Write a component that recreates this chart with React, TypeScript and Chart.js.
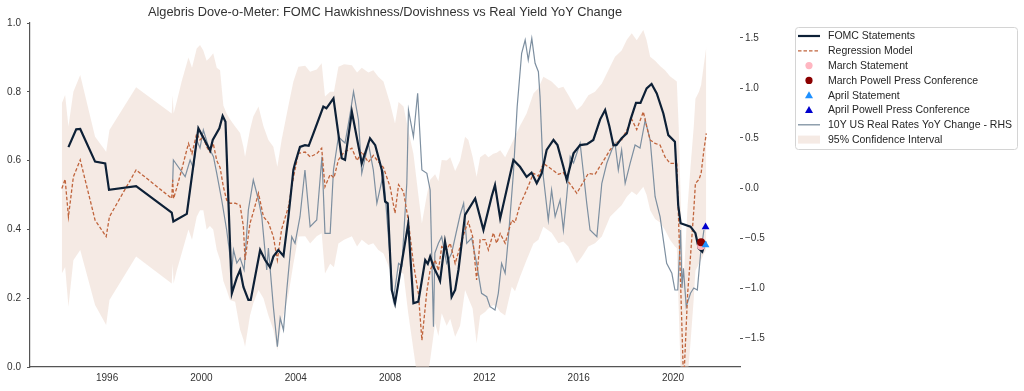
import React, { useEffect, useRef } from 'react';
import { Chart, registerables } from 'chart.js';

Chart.register(...registerables);

const FONT = "'Liberation Sans', Arial, sans-serif";
const TITLE = 'Algebris Dove-o-Meter: FOMC Hawkishness/Dovishness vs Real Yield YoY Change';

const xTickYears = [1996, 2000, 2004, 2008, 2012, 2016, 2020];
const leftTicks = [0, 0.2, 0.4, 0.6, 0.8, 1.0];
const rightTicks = [-1.5, -1.0, -0.5, 0, 0.5, 1.0, 1.5];

const legendLabels = [
  'FOMC Statements',
  'Regression Model',
  'March Statement',
  'March Powell Press Conference',
  'April Statement',
  'April Powell Press Conference',
  '10Y US Real Rates YoY Change - RHS',
  '95% Confidence Interval',
];

// FOMC statements score (left axis)
const fomcDates = [
  1994.36, 1994.69, 1994.86, 1995.49, 1995.92, 1996.08, 1997.23, 1998.74, 1998.81, 1999.38,
  1999.87, 2000.37, 2000.48, 2000.76, 2000.90, 2001.02, 2001.29, 2001.50, 2001.64, 2001.78,
  2001.99, 2002.09, 2002.49, 2002.70, 2002.91, 2003.05, 2003.26, 2003.48, 2003.69, 2003.90,
  2003.97, 2004.18, 2004.39, 2004.55, 2004.75, 2005.17, 2005.30, 2005.60, 2005.95, 2006.09,
  2006.38, 2006.80, 2007.15, 2007.37, 2007.65, 2007.79, 2007.90, 2008.07, 2008.21, 2008.49,
  2008.77, 2008.99, 2009.20, 2009.49, 2009.60, 2009.70, 2009.85, 2010.05, 2010.12, 2010.33,
  2010.47, 2010.61, 2010.76, 2010.90, 2011.18, 2011.61, 2011.96, 2012.31, 2012.45, 2012.67,
  2013.23, 2013.51, 2013.79, 2014.00, 2014.22, 2014.43, 2014.64, 2014.93, 2015.10, 2015.35,
  2015.49, 2015.78, 2016.06, 2016.35, 2016.62, 2016.91, 2017.12, 2017.30, 2017.47, 2017.60,
  2017.82, 2018.04, 2018.20, 2018.43, 2018.62, 2018.88, 2019.09, 2019.31, 2019.59, 2019.80,
  2020.08, 2020.22, 2020.32, 2020.74, 2020.95, 2021.09, 2021.24, 2021.38,
];
const fomcValues = [
  0.639, 0.691, 0.692, 0.597, 0.592, 0.515, 0.526, 0.449, 0.423, 0.445,
  0.694, 0.629, 0.660, 0.694, 0.730, 0.713, 0.214, 0.260, 0.282, 0.233,
  0.195, 0.195, 0.340, 0.311, 0.290, 0.321, 0.340, 0.323, 0.437, 0.573,
  0.592, 0.640, 0.645, 0.643, 0.679, 0.757, 0.752, 0.781, 0.607, 0.602,
  0.742, 0.592, 0.665, 0.645, 0.573, 0.481, 0.476, 0.224, 0.185, 0.301,
  0.417, 0.185, 0.190, 0.311, 0.300, 0.321, 0.290, 0.262, 0.250, 0.364,
  0.311, 0.204, 0.224, 0.282, 0.442, 0.490, 0.398, 0.496, 0.529, 0.432,
  0.602, 0.582, 0.553, 0.565, 0.534, 0.563, 0.631, 0.660, 0.645, 0.582,
  0.544, 0.621, 0.645, 0.648, 0.660, 0.720, 0.747, 0.700, 0.645, 0.645,
  0.665, 0.679, 0.720, 0.768, 0.768, 0.810, 0.823, 0.795, 0.737, 0.674,
  0.655, 0.470, 0.418, 0.408, 0.389, 0.345, 0.335, 0.365,
];

// Regression model and its 95% confidence interval (left axis)
const regDates = [
  1994.08, 1994.22, 1994.36, 1994.57, 1994.86, 1995.49, 1995.96, 1996.10, 1997.23, 1998.74,
  1998.78, 1998.82, 1998.95, 1999.16, 1999.45, 1999.60, 1999.80, 1999.94, 2000.08, 2000.22,
  2000.36, 2000.50, 2000.65, 2000.79, 2000.93, 2001.07, 2001.21, 2001.43, 2001.64, 2001.78,
  2001.85, 2002.06, 2002.20, 2002.42, 2002.63, 2002.84, 2003.05, 2003.22, 2003.40, 2003.69,
  2003.90, 2004.11, 2004.40, 2004.61, 2004.89, 2005.10, 2005.24, 2005.46, 2005.62, 2005.81,
  2006.05, 2006.38, 2006.60, 2006.80, 2007.08, 2007.29, 2007.50, 2007.72, 2008.00, 2008.21,
  2008.36, 2008.57, 2008.77, 2008.99, 2009.20, 2009.35, 2009.56, 2009.70, 2009.91, 2010.05,
  2010.19, 2010.40, 2010.55, 2010.76, 2010.97, 2011.18, 2011.32, 2011.50, 2011.67, 2011.82,
  2012.03, 2012.17, 2012.38, 2012.52, 2012.67, 2012.88, 2013.16, 2013.30, 2013.50, 2013.79,
  2014.08, 2014.29, 2014.50, 2014.85, 2015.14, 2015.35, 2015.56, 2015.92, 2016.13, 2016.41,
  2016.69, 2016.98, 2017.33, 2017.54, 2017.82, 2018.04, 2018.25, 2018.46, 2018.74, 2018.88,
  2019.03, 2019.24, 2019.45, 2019.66, 2019.87, 2020.08, 2020.16, 2020.24, 2020.34, 2020.45,
  2020.62, 2020.74, 2020.88, 2020.95, 2021.10, 2021.19, 2021.31, 2021.41,
];
const regValues = [
  0.519, 0.546, 0.437, 0.553, 0.602, 0.427, 0.379, 0.437, 0.573, 0.490,
  0.544, 0.490, 0.520, 0.573, 0.650, 0.620, 0.679, 0.660, 0.670, 0.640,
  0.625, 0.650, 0.600, 0.580, 0.524, 0.485, 0.476, 0.476, 0.470, 0.408,
  0.311, 0.418, 0.450, 0.505, 0.437, 0.420, 0.379, 0.311, 0.400, 0.466,
  0.550, 0.621, 0.625, 0.611, 0.620, 0.636, 0.524, 0.560, 0.550, 0.602,
  0.625, 0.636, 0.600, 0.626, 0.595, 0.615, 0.597, 0.580, 0.524, 0.447,
  0.530, 0.510, 0.427, 0.301, 0.214, 0.078, 0.220, 0.282, 0.311, 0.280,
  0.350, 0.340, 0.360, 0.301, 0.350, 0.398, 0.422, 0.380, 0.253, 0.370,
  0.370, 0.340, 0.390, 0.360, 0.388, 0.360, 0.427, 0.420, 0.470, 0.514,
  0.563, 0.555, 0.592, 0.575, 0.560, 0.565, 0.539, 0.505, 0.530, 0.563,
  0.560, 0.592, 0.631, 0.650, 0.660, 0.689, 0.720, 0.690, 0.742, 0.700,
  0.660, 0.650, 0.645, 0.611, 0.592, 0.592, 0.590, 0.418, 0.200, -0.050,
  0.214, 0.321, 0.456, 0.534, 0.545, 0.563, 0.631, 0.679,
];
const ciUpper = [
  0.767, 0.791, 0.699, 0.800, 0.849, 0.669, 0.626, 0.689, 0.813, 0.737,
  0.790, 0.737, 0.770, 0.830, 0.900, 0.870, 0.926, 0.936, 0.920, 0.890,
  0.900, 0.912, 0.870, 0.863, 0.760, 0.737, 0.720, 0.699, 0.680, 0.640,
  0.611, 0.690, 0.728, 0.757, 0.700, 0.660, 0.640, 0.582, 0.660, 0.760,
  0.830, 0.873, 0.876, 0.858, 0.865, 0.883, 0.786, 0.800, 0.800, 0.873,
  0.880, 0.877, 0.856, 0.870, 0.856, 0.863, 0.844, 0.830, 0.767, 0.708,
  0.770, 0.757, 0.689, 0.620, 0.500, 0.418, 0.500, 0.544, 0.560, 0.540,
  0.602, 0.600, 0.610, 0.570, 0.600, 0.669, 0.660, 0.611, 0.553, 0.610,
  0.620, 0.610, 0.620, 0.623, 0.630, 0.610, 0.650, 0.670, 0.700, 0.737,
  0.795, 0.810, 0.844, 0.830, 0.810, 0.815, 0.791, 0.747, 0.760, 0.790,
  0.800, 0.824, 0.873, 0.902, 0.920, 0.951, 0.970, 0.950, 0.980, 0.950,
  0.902, 0.890, 0.875, 0.863, 0.845, 0.834, 0.830, 0.700, 0.450, 0.250,
  0.470, 0.580, 0.700, 0.780, 0.800, 0.820, 0.880, 0.930,
];
const ciLower = [
  0.272, 0.291, 0.175, 0.310, 0.340, 0.180, 0.122, 0.195, 0.321, 0.243,
  0.300, 0.243, 0.280, 0.330, 0.400, 0.370, 0.437, 0.456, 0.456, 0.400,
  0.410, 0.400, 0.340, 0.311, 0.250, 0.224, 0.195, 0.190, 0.108, 0.080,
  0.059, 0.150, 0.185, 0.224, 0.200, 0.150, 0.108, 0.049, 0.130, 0.210,
  0.300, 0.379, 0.380, 0.359, 0.380, 0.389, 0.272, 0.300, 0.290, 0.359,
  0.370, 0.380, 0.350, 0.370, 0.355, 0.360, 0.340, 0.330, 0.282, 0.204,
  0.280, 0.270, 0.156, 0.050, -0.050, -0.100, -0.040, 0.020, 0.127, 0.090,
  0.156, 0.120, 0.140, 0.088, 0.120, 0.224, 0.200, 0.170, 0.069, 0.150,
  0.160, 0.170, 0.180, 0.175, 0.160, 0.150, 0.233, 0.220, 0.260, 0.311,
  0.359, 0.370, 0.408, 0.390, 0.360, 0.365, 0.350, 0.301, 0.320, 0.350,
  0.360, 0.379, 0.437, 0.451, 0.470, 0.495, 0.510, 0.500, 0.524, 0.500,
  0.456, 0.430, 0.420, 0.398, 0.370, 0.350, 0.345, 0.170, -0.050, -0.300,
  -0.030, 0.070, 0.200, 0.280, 0.300, 0.310, 0.330, 0.340,
];

// 10Y US real rates YoY change (right axis)
const realDates = [
  1998.78, 1998.81, 1999.31, 1999.52, 1999.66, 1999.80, 1999.94, 2000.08, 2000.30, 2000.51,
  2000.65, 2000.86, 2001.07, 2001.29, 2001.36, 2001.50, 2001.64, 2001.81, 2001.99, 2002.20,
  2002.42, 2002.56, 2002.77, 2002.84, 2003.05, 2003.22, 2003.34, 2003.48, 2003.62, 2003.83,
  2003.97, 2004.18, 2004.39, 2004.61, 2004.89, 2005.11, 2005.24, 2005.46, 2005.60, 2005.81,
  2005.95, 2006.09, 2006.31, 2006.45, 2006.66, 2006.80, 2007.08, 2007.29, 2007.44, 2007.72,
  2008.14, 2008.36, 2008.50, 2008.71, 2008.78, 2008.99, 2009.17, 2009.35, 2009.56, 2009.70,
  2009.84, 2009.90, 2010.05, 2010.19, 2010.40, 2010.61, 2010.80, 2010.97, 2011.12, 2011.25,
  2011.46, 2011.67, 2011.88, 2012.10, 2012.24, 2012.45, 2012.59, 2012.73, 2012.88, 2013.02,
  2013.23, 2013.39, 2013.58, 2013.73, 2013.86, 2014.01, 2014.15, 2014.29, 2014.36, 2014.50,
  2014.71, 2014.85, 2015.00, 2015.21, 2015.35, 2015.49, 2015.64, 2015.78, 2015.92, 2016.06,
  2016.20, 2016.34, 2016.48, 2016.77, 2016.98, 2017.19, 2017.40, 2017.54, 2017.68, 2017.82,
  2017.97, 2018.18, 2018.39, 2018.60, 2018.82, 2019.03, 2019.24, 2019.45, 2019.73, 2019.95,
  2020.08, 2020.20, 2020.32, 2020.38, 2020.44, 2020.56, 2020.74, 2020.88, 2021.03, 2021.17,
  2021.31,
];
const realValues = [
  0.05, 0.28, 0.113, 0.28, 0.20, 0.48, 0.40, 0.58, 0.413, 0.313,
  0.147, -0.12, -0.42, -0.82, -0.62, -0.75, -0.70, -0.82, -0.22, 0.08,
  -0.12, -0.287, -0.82, -0.60, -1.187, -1.587, -1.30, -1.42, -1.02, -0.487,
  -0.553, -0.287, 0.18, -0.387, -0.32, 0.313, -0.453, -0.453, 0.18, 0.513,
  0.48, 0.45, 0.747, 0.963, 0.68, 0.147, 0.447, 0.18, -0.153, 0.147,
  -1.12, -0.753, -0.78, 0.047, 0.78, 0.513, 0.947, 0.18, 0.147, -0.02,
  -1.387, -0.65, -0.553, -0.487, -0.753, -0.653, -0.45, -0.27, -0.153, -0.553,
  -0.50, -0.753, -1.053, -1.087, -1.187, -1.22, -1.053, -0.753, -0.853, -0.487,
  0.147, 0.813, 1.347, 1.48, 1.28, 1.497, 1.247, 1.163, 0.913, 0.113,
  -0.32, -0.02, -0.287, -0.12, -0.42, -0.087, 0.313, 0.25, 0.347, 0.447,
  0.15, -0.153, -0.42, -0.487, 0.047, 0.247, 0.38, 0.447, 0.18, 0.38,
  0.047, 0.247, 0.43, 0.40, 0.68, 0.48, -0.087, -0.287, -0.753, -0.853,
  -1.02, -1.02, -0.42, -1.0, -0.803, -1.187, -1.053, -1.0, -1.02, -0.653,
  -0.42,
];

// 2021 meeting markers (left axis)
const marchStatement = { date: 2021.19, value: 0.352 };
const marchPressConf = { date: 2021.19, value: 0.363 };
const aprilStatement = { date: 2021.38, value: 0.355 };
const aprilPressConf = { date: 2021.38, value: 0.407 };

const COLORS = {
  fomc: '#0d2036',
  reg: '#c0643c',
  real: '#7d8fa0',
  band: 'rgba(232,208,196,0.45)',
  marchStmt: '#ffb6c1',
  marchPC: '#8b0000',
  aprilStmt: '#1e90ff',
  aprilPC: '#0000cd',
  axis: '#555555',
  text: '#333333',
};

const pts = (xs: number[], ys: number[]) => xs.map((x, i) => ({ x, y: ys[i] }));

const fmtRight = (v: number) => (v < 0 ? '\u2212' + Math.abs(v).toFixed(1) : Math.abs(v).toFixed(1));

const overlayPlugin = {
  id: 'overlay',
  afterDraw(chart: any) {
    const ctx = chart.ctx as CanvasRenderingContext2D;
    const ca = chart.chartArea;
    ctx.save();
    // title
    ctx.fillStyle = COLORS.text;
    ctx.font = `12.8px ${FONT}`;
    ctx.textAlign = 'center';
    ctx.textBaseline = 'middle';
    ctx.fillText(TITLE, (ca.left + ca.right) / 2, 12.5);

    // legend frame
    const bx = 795.5, by = 27.5, bw = 222, bh = 122;
    ctx.beginPath();
    (ctx as any).roundRect(bx, by, bw, bh, 3);
    ctx.fillStyle = 'rgba(255,255,255,0.85)';
    ctx.fill();
    ctx.strokeStyle = '#d4d4d4';
    ctx.lineWidth = 1;
    ctx.stroke();

    const hx0 = 798, hx1 = 820, tx = 828;
    const y0 = 36, dy = 14.8;
    ctx.font = `10.5px ${FONT}`;
    ctx.textAlign = 'left';
    legendLabels.forEach((label, i) => {
      const y = y0 + i * dy;
      const hc = (hx0 + hx1) / 2;
      ctx.save();
      if (i === 0) {
        ctx.strokeStyle = COLORS.fomc; ctx.lineWidth = 2.2;
        ctx.beginPath(); ctx.moveTo(hx0, y); ctx.lineTo(hx1, y); ctx.stroke();
      } else if (i === 1) {
        ctx.strokeStyle = COLORS.reg; ctx.lineWidth = 1.3; ctx.setLineDash([3.5, 2]);
        ctx.beginPath(); ctx.moveTo(hx0, y); ctx.lineTo(hx1, y); ctx.stroke();
      } else if (i === 2 || i === 3) {
        ctx.fillStyle = i === 2 ? COLORS.marchStmt : COLORS.marchPC;
        ctx.beginPath(); ctx.arc(hc, y, 3.6, 0, Math.PI * 2); ctx.fill();
      } else if (i === 4 || i === 5) {
        ctx.fillStyle = i === 4 ? COLORS.aprilStmt : COLORS.aprilPC;
        ctx.beginPath(); ctx.moveTo(hc, y - 4); ctx.lineTo(hc + 4, y + 3); ctx.lineTo(hc - 4, y + 3); ctx.closePath(); ctx.fill();
      } else if (i === 6) {
        ctx.strokeStyle = COLORS.real; ctx.lineWidth = 1.3;
        ctx.beginPath(); ctx.moveTo(hx0, y); ctx.lineTo(hx1, y); ctx.stroke();
      } else {
        ctx.fillStyle = COLORS.band;
        ctx.fillRect(hx0, y - 4, hx1 - hx0, 8);
      }
      ctx.restore();
      ctx.fillStyle = '#262626';
      ctx.fillText(label, tx, y + 0.5);
    });
    ctx.restore();
  },
};

export default function App() {
  const canvasRef = useRef<HTMLCanvasElement | null>(null);

  useEffect(() => {
    const canvas = canvasRef.current;
    if (!canvas) return;

    const markerDs = (p: { date: number; value: number }, color: string, style: string, order: number) => ({
      type: 'line' as const,
      data: [{ x: p.date, y: p.value }],
      yAxisID: 'y',
      showLine: false,
      pointStyle: style,
      pointRadius: style === 'triangle' ? 4.5 : 4,
      pointBackgroundColor: color,
      pointBorderColor: color,
      pointBorderWidth: 0,
      order,
    });

    const chart = new Chart(canvas, {
      type: 'line',
      data: {
        datasets: [
          markerDs(aprilPressConf, COLORS.aprilPC, 'triangle', 0),
          markerDs(aprilStatement, COLORS.aprilStmt, 'triangle', 1),
          markerDs(marchPressConf, COLORS.marchPC, 'circle', 2),
          markerDs(marchStatement, COLORS.marchStmt, 'circle', 3),
          {
            data: pts(fomcDates, fomcValues),
            yAxisID: 'y',
            borderColor: COLORS.fomc,
            borderWidth: 2.2,
            pointRadius: 0,
            tension: 0,
            fill: false,
            order: 4,
          },
          {
            data: pts(regDates, regValues),
            yAxisID: 'y',
            borderColor: COLORS.reg,
            borderWidth: 1.3,
            borderDash: [3.5, 2],
            pointRadius: 0,
            tension: 0,
            fill: false,
            order: 5,
          },
          {
            data: pts(realDates, realValues),
            yAxisID: 'y1',
            borderColor: COLORS.real,
            borderWidth: 1.2,
            pointRadius: 0,
            tension: 0,
            fill: false,
            order: 6,
          },
          {
            data: pts(regDates, ciUpper),
            yAxisID: 'y',
            borderWidth: 0,
            borderColor: 'rgba(0,0,0,0)',
            backgroundColor: COLORS.band,
            pointRadius: 0,
            tension: 0,
            fill: '+1',
            order: 7,
          },
          {
            data: pts(regDates, ciLower),
            yAxisID: 'y',
            borderWidth: 0,
            borderColor: 'rgba(0,0,0,0)',
            pointRadius: 0,
            tension: 0,
            fill: false,
            order: 8,
          },
        ] as any,
      },
      options: {
        responsive: false,
        maintainAspectRatio: false,
        animation: false,
        devicePixelRatio: 1,
        layout: { padding: { top: 23, left: 0, right: 0, bottom: 0 } },
        plugins: {
          legend: { display: false },
          title: { display: false },
          tooltip: { enabled: false },
        },
        scales: {
          x: {
            type: 'linear',
            min: 1992.73,
            max: 2022.84,
            afterBuildTicks: (s: any) => { s.ticks = xTickYears.map((v) => ({ value: v })); },
            afterFit: (s: any) => { s.height = 24; },
            grid: { display: true, drawOnChartArea: false, drawTicks: false },
            border: { display: true, color: COLORS.axis, width: 1.2 },
            ticks: {
              padding: 5,
              color: COLORS.text,
              font: { family: FONT, size: 10 },
              maxRotation: 0,
              autoSkip: false,
              callback: (v: any) => String(v),
            },
          },
          y: {
            type: 'linear',
            position: 'left',
            min: 0,
            max: 1,
            afterBuildTicks: (s: any) => { s.ticks = leftTicks.map((v) => ({ value: v })); },
            afterFit: (s: any) => { s.width = 30; },
            grid: { display: true, drawOnChartArea: false, drawTicks: true, tickLength: 3, tickColor: COLORS.axis },
            border: { display: true, color: COLORS.axis, width: 1.2 },
            ticks: {
              padding: 6,
              color: COLORS.text,
              font: { family: FONT, size: 10 },
              callback: (v: any) => Number(v).toFixed(1),
            },
          },
          y1: {
            type: 'linear',
            position: 'right',
            min: -1.79,
            max: 1.65,
            afterBuildTicks: (s: any) => { s.ticks = rightTicks.map((v) => ({ value: v })); },
            afterFit: (s: any) => { s.width = 284; },
            grid: { display: true, drawOnChartArea: false, drawTicks: true, tickLength: 3, tickColor: COLORS.axis },
            border: { display: false },
            ticks: {
              padding: 2,
              color: COLORS.text,
              font: { family: FONT, size: 10 },
              callback: (v: any) => fmtRight(Number(v)),
            },
          },
        },
      } as any,
      plugins: [overlayPlugin],
    });

    return () => chart.destroy();
  }, []);

  return (
    <div style={{ position: 'absolute', left: 0, top: 0, width: 1024, height: 391, background: '#fff' }}>
      <canvas ref={canvasRef} width={1024} height={391} style={{ width: 1024, height: 391, display: 'block' }} />
    </div>
  );
}
